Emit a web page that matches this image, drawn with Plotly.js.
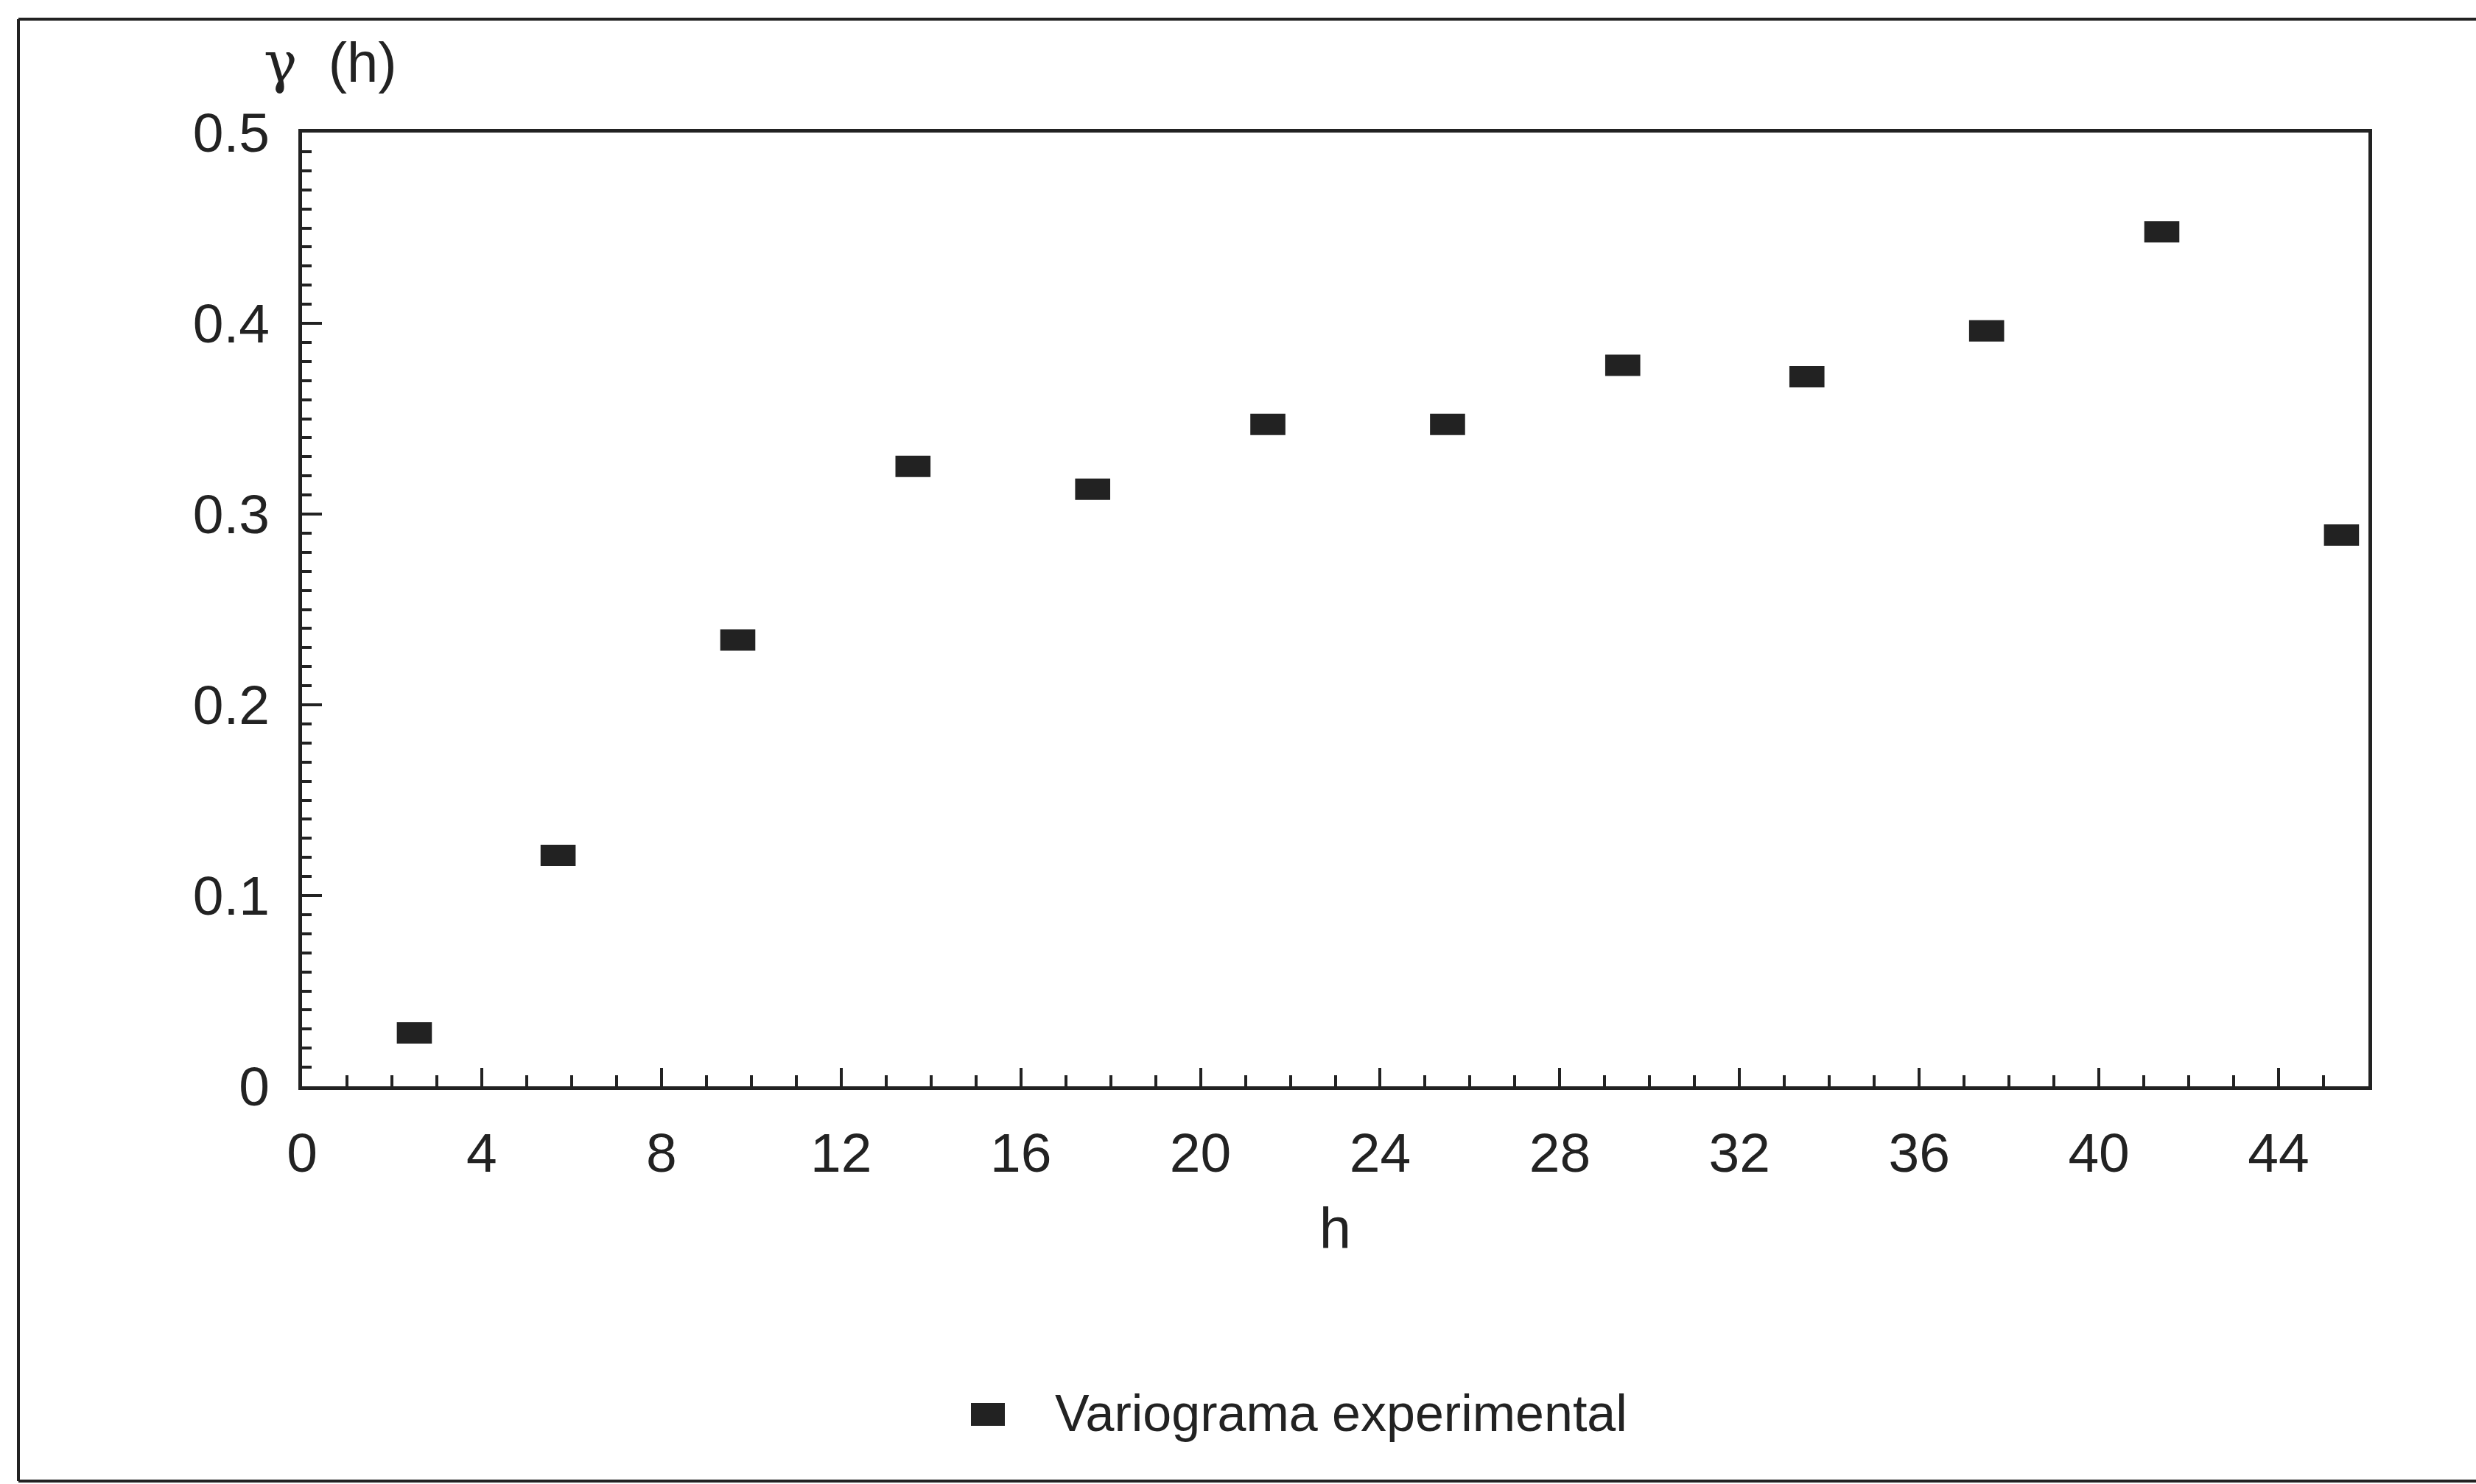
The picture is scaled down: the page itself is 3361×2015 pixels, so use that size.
<!DOCTYPE html>
<html>
<head>
<meta charset="utf-8">
<script src="https://cdn.plot.ly/plotly-3.0.1.min.js"></script>
<style>
  html, body { margin: 0; padding: 0; background: #ffffff; overflow: hidden; }
  #chart { width: 3361px; height: 2015px; }
</style>
</head>
<body>
<div id="chart"></div>
<script>
// Data
const lagH = [2.5, 5.7, 9.7, 13.6, 17.6, 21.5, 25.5, 29.4, 33.5, 37.5, 41.4, 45.4];
const gammaH = [0.028, 0.121, 0.234, 0.325, 0.313, 0.347, 0.347, 0.378, 0.372, 0.396, 0.448, 0.289];
const seriesName = "Variograma experimental";
const xTitle = "h";
const yTitle = "<span style='font-family:DejaVu Serif'>γ</span>  (h)";

const ink = "#222222";
const fontFam = "'Liberation Sans', Arial, sans-serif";

const L = 410, R = 146, T = 180, B = 540;
const W = 3361, H = 2015;
const pw = W - L - R, ph = H - T - B;
const px = v => (v - L) / pw;
const py = v => (H - B - v) / ph;

const trace = {
  type: "scatter",
  mode: "markers",
  x: lagH,
  y: gammaH,
  name: seriesName,
  showlegend: false,
  cliponaxis: false,
  marker: {
    symbol: "line-ew",
    size: 34,
    color: ink,
    line: { color: ink, width: 29 }
  },
  hoverinfo: "x+y"
};

const axisCommon = {
  showgrid: false,
  zeroline: false,
  showline: true,
  linecolor: ink,
  linewidth: 5,
  mirror: true,
  ticks: "inside",
  tickcolor: ink,
  tickwidth: 4,
  tickfont: { family: fontFam, size: 75, color: ink }
};

const frameLine = { color: ink, width: 4 };

const layout = {
  width: W,
  height: H,
  paper_bgcolor: "#ffffff",
  plot_bgcolor: "#ffffff",
  margin: { l: L, r: R, t: T, b: B, pad: 0 },
  showlegend: false,
  xaxis: Object.assign({}, axisCommon, {
    range: [0, 46],
    tick0: 0,
    dtick: 4,
    ticklen: 25,
    ticklabelstandoff: 21,
    minor: { dtick: 1, ticks: "inside", ticklen: 15, tickwidth: 4, tickcolor: ink, showgrid: false },
    title: { text: xTitle, font: { family: fontFam, size: 78, color: ink }, standoff: 36 }
  }),
  yaxis: Object.assign({}, axisCommon, {
    range: [0, 0.5],
    tick0: 0,
    dtick: 0.1,
    ticklen: 27,
    ticklabelstandoff: 24,
    minor: { dtick: 0.01, ticks: "inside", ticklen: 13, tickwidth: 4, tickcolor: ink, showgrid: false }
  }),
  shapes: [
    // outer frame of the figure: left, top and bottom sides (right side is off the picture)
    { type: "line", xref: "paper", yref: "paper", x0: px(25), x1: px(25), y0: py(2011), y1: py(26), line: frameLine, layer: "below" },
    { type: "line", xref: "paper", yref: "paper", x0: px(25), x1: px(3361), y0: py(26), y1: py(26), line: frameLine, layer: "below" },
    { type: "line", xref: "paper", yref: "paper", x0: px(25), x1: px(3361), y0: py(2011), y1: py(2011), line: frameLine, layer: "below" },
    // legend swatch
    { type: "rect", xref: "paper", yref: "paper",
      x0: px(1318), x1: px(1364), y0: py(1936), y1: py(1905),
      line: { width: 0 }, fillcolor: ink }
  ],
  annotations: [
    { text: yTitle, xref: "paper", yref: "paper", x: px(356), y: py(84),
      xanchor: "left", yanchor: "middle", showarrow: false,
      font: { family: fontFam, size: 76, color: ink } },
    { text: seriesName, xref: "paper", yref: "paper", x: px(1430), y: py(1919),
      xanchor: "left", yanchor: "middle", showarrow: false,
      font: { family: fontFam, size: 70, color: ink } }
  ]
};

Plotly.newPlot("chart", [trace], layout, { displayModeBar: false, staticPlot: true });
</script>
</body>
</html>
